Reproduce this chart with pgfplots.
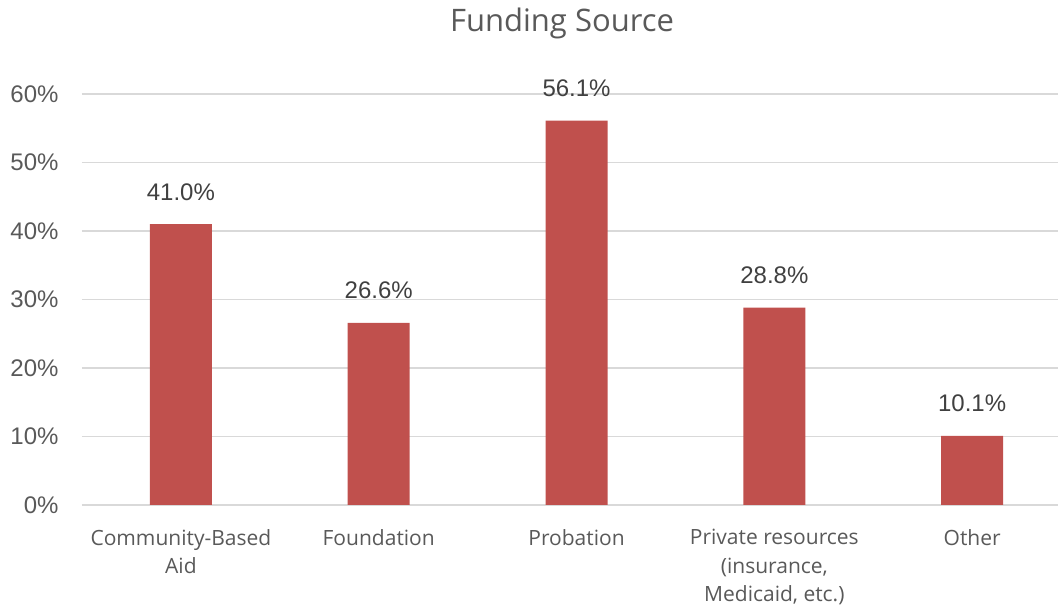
\documentclass[border=0pt]{standalone}
\usepackage{fontspec}
\setmainfont{Liberation Sans}
\newfontfamily\catfont{Open Sans}
\usepackage{pgfplots}
\pgfplotsset{compat=1.18}
\definecolor{barred}{HTML}{C0504D}
\definecolor{txtgray}{HTML}{595959}
\definecolor{lblgray}{HTML}{404040}
\definecolor{gridgray}{HTML}{D9D9D9}
\begin{document}
\begin{tikzpicture}
\begin{axis}[
  at={(82pt,105pt)}, anchor=south west,
  scale only axis,
  width=976pt, height=411pt,
  xmin=-0.5, xmax=4.434,
  ymin=0, ymax=60,
  ytick={0,10,20,30,40,50,60},
  yticklabel={\pgfmathprintnumber{\tick}\%},
  /pgf/number format/assume math mode=true,
  yticklabel style={font=\fontsize{24}{28}\selectfont, text=txtgray, xshift=-20pt},
  xtick={0,1,2,3,4},
  xticklabels={{Community-Based\\Aid},{Foundation},{Probation},{Private resources\\(insurance,\\Medicaid, etc.)},{Other}},
  xticklabel style={font=\catfont\fontsize{21}{28.5}\selectfont, text=txtgray, align=center, anchor=north, yshift=-21pt},
  major tick length=0pt,
  axis line style={draw=none},
  ymajorgrids, grid style={gridgray, line width=1.6pt},
  clip=false,
  ybar, bar width=62pt,
  nodes near coords={\pgfmathprintnumber[fixed,fixed zerofill,precision=1]{\pgfplotspointmeta}\%},
  every node near coord/.append style={anchor=base, yshift=24pt, font=\fontsize{24}{28}\selectfont, text=lblgray},
]
\addplot[fill=barred, draw=none] coordinates {(0,41.0) (1,26.6) (2,56.1) (3,28.8) (4,10.1)};
\end{axis}
\node[anchor=base, font=\catfont\fontsize{31}{36}\selectfont, text=txtgray] at (562pt,578pt) {Funding Source};
\pgfresetboundingbox
\path[use as bounding box] (0,0) rectangle (1058pt,610pt);
\end{tikzpicture}
\end{document}
